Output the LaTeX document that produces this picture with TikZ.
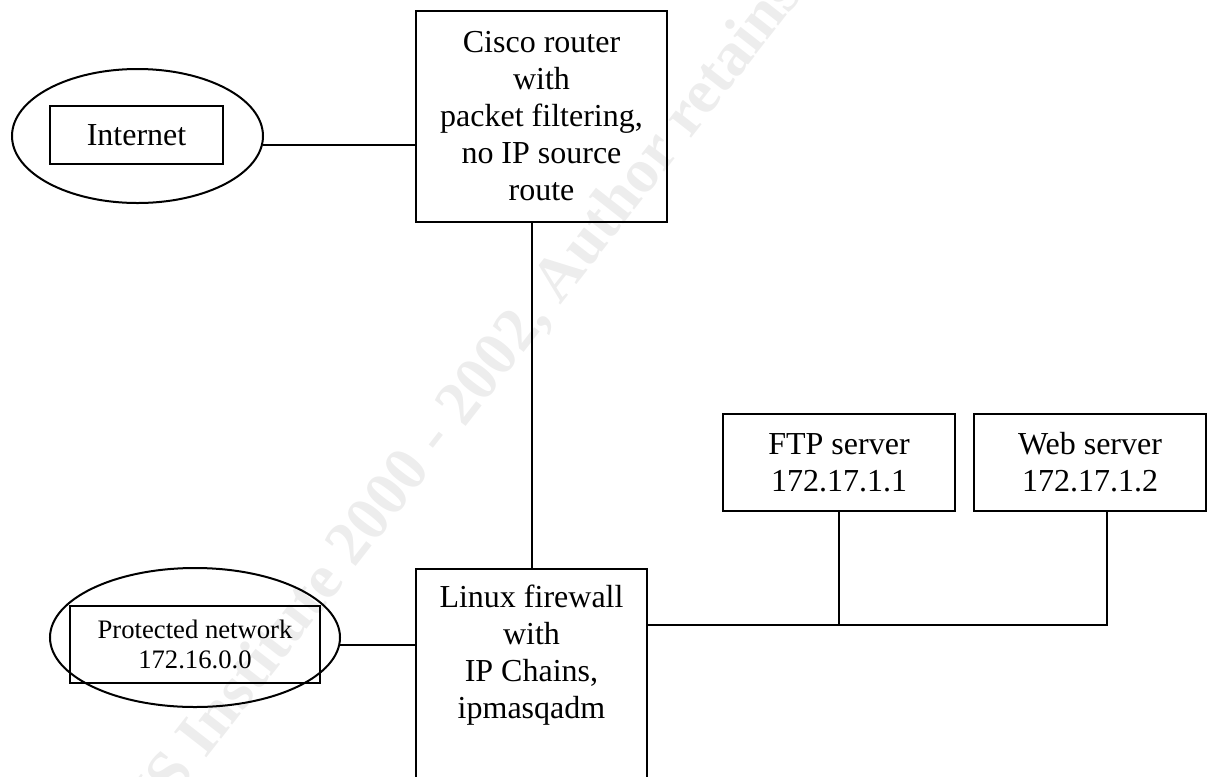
\documentclass[tikz,border=0pt]{standalone}
\usepackage{fontspec}
\setmainfont{Liberation Serif}
\usetikzlibrary{shapes.geometric,calc}
\begin{document}
\begin{tikzpicture}[x=0.75pt,y=-0.75pt,line width=1.5pt,
  mainfont/.style={font=\fontsize{24}{27.75}\selectfont},
  box/.style={draw,rectangle,inner sep=0pt,align=center,mainfont},
  cloud/.style={draw,ellipse,inner sep=0pt},
  plain/.style={align=center,inner sep=0pt,mainfont},
  wmark/.style={font=\fontsize{47}{50}\selectfont\bfseries,text=black!7,rotate=52,inner sep=0pt}]
\clip (0,0) rectangle (1208,776);
% faint watermark
\node[wmark] (wm) at (505,352) {© SANS Institute 2000 - 2002, Author retains full rights};
% Internet
\node[cloud,minimum width=188.25pt,minimum height=100.5pt] (inetell) at (137.5,136) {};
\node[box,minimum width=129.75pt,minimum height=43.5pt] (inet) at (136.5,135) {Internet};
% Cisco router
\node[box,minimum width=188.25pt,minimum height=158.25pt] (cisco) at (541.5,116.5)
  {Cisco router\\with\\packet filtering,\\no IP source\\route};
% Linux firewall
\node[draw,rectangle,inner sep=0pt,minimum width=173.25pt,minimum height=187.5pt,anchor=north] (linux) at (531.5,568) {};
\node[plain] (linuxtext) at (531.5,655) {Linux firewall\\with\\IP Chains,\\ipmasqadm};
% Protected network
\node[cloud,minimum width=217.5pt,minimum height=104.25pt] (protell) at (195,637.5) {};
\node[draw,rectangle,inner sep=0pt,align=center,font=\fontsize{20}{22.5}\selectfont,
  minimum width=187.5pt,minimum height=57.75pt] (prot) at (195,644.5) {Protected network\\172.16.0.0};
% Servers
\node[box,minimum width=174pt,minimum height=72.75pt] (ftp) at (839,462.5) {FTP server\\172.17.1.1};
\node[box,minimum width=174pt,minimum height=72.75pt] (web) at (1090,462.5) {Web server\\172.17.1.2};
% connectors
\draw (inetell.-4.7) -- (inetell.-4.7 -| cisco.west);
\draw (linux.north) -- (linux.north |- cisco.south);
\draw (protell.-3) -- (protell.-3 -| linux.west);
\coordinate (busL) at ($(linux.north east)+(0,57)$);
\coordinate (webdrop) at ($(web.south)+(17,0)$);
\draw (busL) -- (busL -| webdrop) -- (webdrop);
\draw (ftp.south) -- (ftp.south |- busL);
\end{tikzpicture}
\end{document}
